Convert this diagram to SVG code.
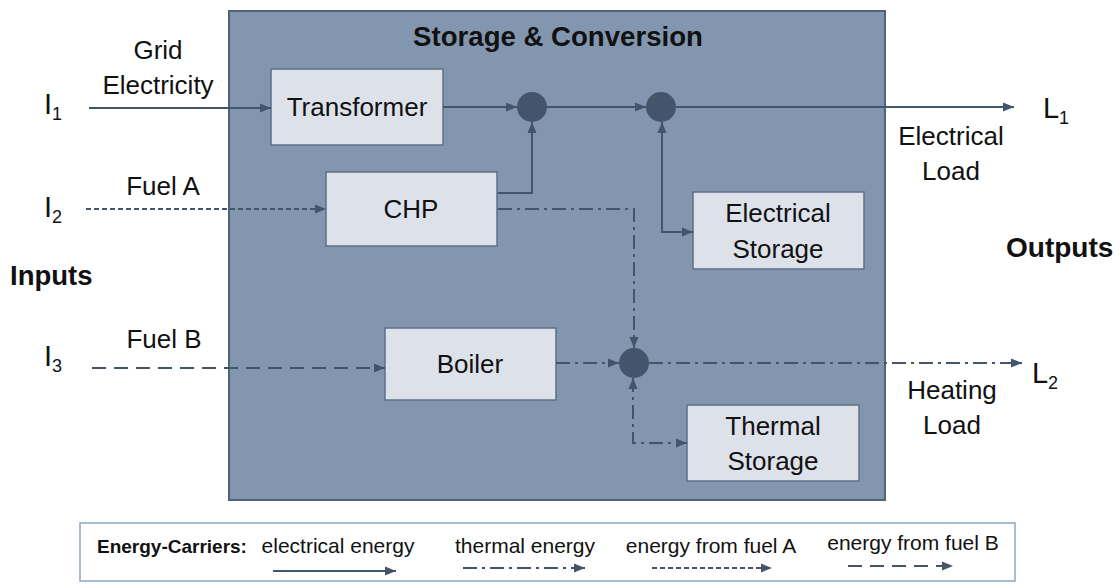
<svg xmlns="http://www.w3.org/2000/svg" width="1120" height="588" viewBox="0 0 1120 588">
<defs>
<marker id="arr" markerUnits="userSpaceOnUse" markerWidth="12" markerHeight="10" refX="11" refY="5" orient="auto-start-reverse">
<path d="M0,0.5 L11,5 L0,9.5 z" fill="#44546a"/>
</marker>
</defs>
<style>
text{font-family:"Liberation Sans",Arial,sans-serif;fill:#111;}
.lbl{font-size:26px;text-anchor:middle;}
.big{font-size:29px;}
.sub{font-size:18px;}
.bold{font-weight:bold;}
.leg{font-size:21px;text-anchor:middle;}
.box{fill:#dce1ea;stroke:#5f6f86;stroke-width:1.5;}
.jn{fill:#44546a;}
.ln{fill:none;stroke:#44546a;stroke-width:2;marker-end:url(#arr);}
.el{}
.th{stroke-dasharray:14 5 3 5;}
.fa{stroke-dasharray:5 3;}
.fb{stroke-dasharray:14 8;}
</style>
<rect width="1120" height="588" fill="#ffffff"/>
<g id="storage-conversion">
<rect x="229" y="11" width="656" height="489" fill="#8396b0" stroke="#52627a" stroke-width="2"/>
<text x="558" y="46" class="bold" style="font-size:27.6px;text-anchor:middle">Storage &amp; Conversion</text>
</g>
<g id="legend">
<rect x="80" y="523" width="935" height="58" fill="#ffffff" stroke="#8ea6c4" stroke-width="1.5"/>
<text x="97" y="553" class="bold" style="font-size:19px">Energy-Carriers:</text>
<text x="338" y="553" class="leg">electrical energy</text>
<text x="525" y="553" class="leg">thermal energy</text>
<text x="711" y="553" class="leg">energy from fuel A</text>
<text x="913" y="550" class="leg">energy from fuel B</text>
</g>
<g id="inputs-outputs">
<text x="10" y="285" class="bold" style="font-size:27.5px">Inputs</text>
<text x="1006" y="257" class="bold" style="font-size:28px">Outputs</text>
<text x="158" y="59" class="lbl">Grid</text>
<text x="158" y="94" class="lbl">Electricity</text>
<text x="163" y="195" class="lbl">Fuel A</text>
<text x="164" y="348" class="lbl">Fuel B</text>
<text x="44" y="114" class="big">I</text><text x="52" y="120" class="sub">1</text>
<text x="44" y="217" class="big">I</text><text x="52" y="223" class="sub">2</text>
<text x="44" y="366" class="big">I</text><text x="52" y="372" class="sub">3</text>
<text x="951" y="145" class="lbl">Electrical</text>
<text x="951" y="180" class="lbl">Load</text>
<text x="952" y="399" class="lbl">Heating</text>
<text x="952" y="434" class="lbl">Load</text>
<text x="1043" y="118" class="big">L</text><text x="1059" y="124" class="sub">1</text>
<text x="1032" y="383" class="big">L</text><text x="1048" y="389" class="sub">2</text>
</g>
<g id="transformer">
<rect x="271" y="69" width="172" height="76" class="box"/>
<text x="357" y="116" class="lbl">Transformer</text>
</g>
<g id="chp">
<rect x="326" y="172" width="171" height="74" class="box"/>
<text x="411" y="218" class="lbl">CHP</text>
</g>
<g id="electrical-storage">
<rect x="693" y="192" width="171" height="77" class="box"/>
<text x="778" y="222" class="lbl">Electrical</text>
<text x="778" y="258" class="lbl">Storage</text>
</g>
<g id="boiler">
<rect x="385" y="328" width="171" height="72" class="box"/>
<text x="470" y="373" class="lbl">Boiler</text>
</g>
<g id="thermal-storage">
<rect x="687" y="405" width="172" height="76" class="box"/>
<text x="773" y="435" class="lbl">Thermal</text>
<text x="773" y="470" class="lbl">Storage</text>
</g>
<g id="junction-1"><circle cx="532" cy="107" r="15" class="jn"/></g>
<g id="junction-2"><circle cx="661" cy="107" r="15" class="jn"/></g>
<g id="junction-3"><circle cx="634" cy="363" r="15" class="jn"/></g>
<g id="connectors">
<path d="M89,108 L271,108" class="ln el"/>
<path d="M443,107 L517,107" class="ln el"/>
<path d="M547,107 L646,107" class="ln el"/>
<path d="M676,107 L1014,107" class="ln el"/>
<path d="M498,193 L532,193 L532,122" class="ln el"/>
<path d="M662,122 L662,232 L693,232" class="ln el" style="marker-start:url(#arr)"/>
<path d="M86,209 L326,209" class="ln fa"/>
<path d="M498,209 L634,209 L634,348" class="ln th"/>
<path d="M92,368 L385,368" class="ln fb"/>
<path d="M556,363 L619,363" class="ln th"/>
<path d="M649,363 L1022,363" class="ln th"/>
<path d="M633,378 L633,443 L687,443" class="ln th" style="marker-start:url(#arr)"/>
<path d="M273,571 L396,571" class="ln el"/>
<path d="M463,568 L585,568" class="ln th"/>
<path d="M652,568 L772,568" class="ln fa"/>
<path d="M848,566 L953,566" class="ln fb"/>
</g>
</svg>
